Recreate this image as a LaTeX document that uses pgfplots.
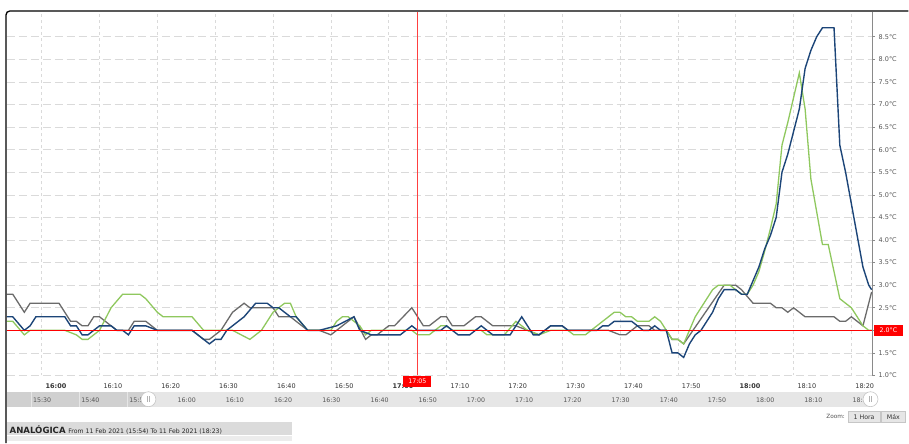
\documentclass[border=0pt]{standalone}
\usepackage{pgfplots}
\pgfplotsset{compat=1.18}
\usepackage{fontspec}
\setmainfont{DejaVu Sans}
\definecolor{cblue}{HTML}{1C4578}
\definecolor{cgreen}{HTML}{8FC85E}
\definecolor{cgray}{HTML}{6B6B6B}
\definecolor{gridc}{HTML}{DADADA}
\definecolor{axisgray}{HTML}{8A8A8A}
\definecolor{labelc}{HTML}{555555}
\definecolor{navlight}{HTML}{E6E6E6}
\definecolor{navdark}{HTML}{D0D0D0}
\definecolor{crossc}{HTML}{FF4040}
\begin{document}
\begin{tikzpicture}
\begin{scope}[x=1pt,y=1pt]
\path[use as bounding box] (0,0) rectangle (909,443);
\fill[white] (0,0) rectangle (909,443);
% navigator band
\fill[navlight] (7,34.7) rectangle (875.7,49.7);
\fill[navdark] (7,34.7) rectangle (149,49.7);
\foreach \t in {-30,-20,-10}{\draw[navlight,line width=0.8pt] ({176.7+4.84*\t},34.7) -- ({176.7+4.84*\t},49.7);}
\foreach \t/\lab in {-30/15:30,-20/15:40,-10/15:50,0/16:00,10/16:10,20/16:20,30/16:30,40/16:40,50/16:50,60/17:00,70/17:10,80/17:20,90/17:30,100/17:40,110/17:50,120/18:00,130/18:10,140/18:20}{
  \node[anchor=west,inner sep=0pt,font=\fontsize{6.3}{7}\selectfont,text=labelc] at ({176.7+4.84*\t+1.5},41.5) {\lab};
}
\foreach \hx in {149,874}{
  \filldraw[fill=white,draw=gray!45,line width=0.6pt] (\hx,42.2) circle (7.5);
  \draw[gray!60,line width=0.5pt] (\hx-1,39.5) -- (\hx-1,45) (\hx+1,39.5) -- (\hx+1,45);
}
\end{scope}
\begin{axis}[
  at={(7pt,66pt)}, anchor=south west,
  scale only axis, width=868.7pt, height=365pt,
  xmin=-6, xmax=143.6, ymin=1, ymax=9.05,
  axis y line*=right, axis x line*=bottom,
  separate axis lines,
  x axis line style={draw=none},
  y axis line style={draw=axisgray, line width=0.8pt},
  xtick={0,10,...,140},
  xticklabels={\textbf{16:00},16:10,16:20,16:30,16:40,16:50,\textbf{17:00},17:10,17:20,17:30,17:40,17:50,\textbf{18:00},18:10,18:20},
  ytick={1,1.5,2,2.5,3,3.5,4,4.5,5,5.5,6,6.5,7,7.5,8,8.5},
  yticklabel={\pgfmathprintnumber{\tick}°C},
  y tick label style={/pgf/number format/fixed, /pgf/number format/fixed zerofill, /pgf/number format/precision=1, /pgf/number format/assume math mode=true},
  tick align=outside, major tick length=3pt,
  xtick style={draw=none},
  ytick style={draw=axisgray, line width=0.6pt},
  xmajorgrids, ymajorgrids,
  x grid style={gridc, line width=0.6pt, dash pattern=on 3pt off 3pt},
  y grid style={gridc, line width=0.6pt, dash pattern=on 8pt off 4pt},
  tick label style={font=\fontsize{6.5}{7}\selectfont, text=labelc},
  xticklabel style={anchor=north west, xshift=0.5pt, yshift=-2pt, text=black!80},
  clip=true,
]
\addplot[cgray, line width=1.3pt] table {
-6 2.8
-5 2.8
-3 2.4
-2 2.6
3 2.6
5 2.2
6 2.2
7 2.1
8 2.1
9 2.3
10 2.3
13 2.0
15 2.0
16 2.2
18 2.2
20 2.0
26 2.0
28 1.8
29 1.8
31 2.0
33 2.4
35 2.6
36 2.5
40 2.5
41 2.3
43 2.3
46 2.0
48 2.0
50 1.9
54 2.3
56 1.8
57 1.9
58 1.9
59 2.0
60 2.1
61 2.1
64 2.5
66 2.1
67 2.1
69 2.3
70 2.3
71 2.1
73 2.1
75 2.3
76 2.3
78 2.1
82 2.1
84 2.0
86 1.9
88 2.1
90 2.1
91 2.0
98 2.0
100 1.9
101 1.9
102 2.0
103 2.1
105 2.1
106 2.0
108 2.0
109 1.8
110 1.8
111 1.7
118 3.0
120 3.0
121 2.9
123 2.6
126 2.6
127 2.5
128 2.5
129 2.4
130 2.5
132 2.3
137 2.3
138 2.2
139 2.2
140 2.3
142 2.1
143.5 2.85
};
\addplot[cgreen, line width=1.3pt] table {
-6 2.2
-5 2.2
-3 1.9
-2 2.0
4 2.0
6 1.9
7 1.8
8 1.8
10 2.0
12 2.5
14 2.8
17 2.8
18 2.7
20 2.4
21 2.3
26 2.3
28 2.0
33 2.0
36 1.8
38 2.0
40 2.4
42 2.6
43 2.6
44 2.3
46 2.0
50 2.0
51 2.2
52 2.3
53 2.3
55 2.1
56 1.9
57 2.0
64 2.0
65 1.9
67 1.9
68 2.0
69 2.1
70 2.1
71 2.0
76 2.0
77 1.9
80 1.9
82 2.2
84 2.0
86 1.9
88 2.0
91 2.0
92 1.9
94 1.9
95 2.0
97 2.2
99 2.4
100 2.4
101 2.3
102 2.3
103 2.2
105 2.2
106 2.3
107 2.2
108 2.0
109 1.8
110 1.8
111 1.7
112 2.0
113 2.3
114 2.5
115 2.7
116 2.9
117 3.0
119 3.0
120 2.9
121 2.8
122 2.8
123 3.0
124 3.3
125 3.75
126 4.25
127 4.8
128 6.1
129 6.6
131 7.7
132 6.9
133 5.35
135 3.9
136 3.9
138 2.7
140 2.5
142 2.1
143 2.0
143.6 2.0
};
\addplot[cblue, line width=1.4pt] table {
-6 2.3
-5 2.3
-3 2.0
-2 2.1
-1 2.3
4 2.3
5 2.1
6 2.1
7 1.9
8 1.9
9 2.0
10 2.1
12 2.1
13 2.0
14 2.0
15 1.9
16 2.1
18 2.1
20 2.0
26 2.0
28 1.8
29 1.7
30 1.8
31 1.8
32 2.0
34 2.2
35 2.3
37 2.6
39 2.6
40 2.5
41 2.5
43 2.3
44 2.3
46 2.0
48 2.0
51 2.1
54 2.3
55 2.0
57 1.9
62 1.9
64 2.1
65 2.0
69 2.0
70 2.1
72 1.9
74 1.9
76 2.1
78 1.9
81 1.9
83 2.3
85 1.9
86 1.9
88 2.1
90 2.1
91 2.0
96 2.0
97 2.1
98 2.1
99 2.2
102 2.2
104 2.0
105 2.0
106 2.1
107 2.0
108 2.0
109 1.5
110 1.5
111 1.4
112 1.7
113 1.9
114 2.0
115 2.2
116 2.4
117 2.7
118 2.9
120 2.9
121 2.8
122 2.8
123 3.1
124 3.4
125 3.8
126 4.1
127 4.5
128 5.5
129 5.9
131 6.9
132 7.8
133 8.2
134 8.5
135 8.7
137 8.7
138 6.1
139 5.5
140 4.8
141 4.1
142 3.4
143 3.0
143.5 2.9
};
\end{axis}
\begin{scope}[x=1pt,y=1pt]
% crosshair lines
\draw[crossc, line width=0.9pt] (419.1,66) -- (419.1,431);
\draw[red, line width=0.8pt] (7,111.3) -- (875.7,111.3);
% crosshair labels
\node[fill=red, text=white, inner sep=0pt, minimum width=28pt, minimum height=11pt, font=\fontsize{6.3}{7}\selectfont] at (419,60.2) {17:05};
\node[fill=red, text=white, inner sep=0pt, minimum width=29pt, minimum height=11pt, font=\fontsize{6.3}{7}\selectfont] at (892,111.6) {2.0°C};
% zoom buttons
\node[anchor=east, inner sep=0pt, font=\fontsize{5.8}{7}\selectfont, text=labelc] at (848.5,24.5) {Zoom:};
\filldraw[fill=navlight, draw=gray!45, line width=0.5pt] (851.7,19) rectangle (883.3,29.7);
\node[font=\fontsize{6.3}{7}\selectfont, text=black!80, inner sep=0pt] at (867.5,24.3) {1 Hora};
\filldraw[fill=navlight, draw=gray!45, line width=0.5pt] (885,19) rectangle (909,29.7);
\node[font=\fontsize{6.3}{7}\selectfont, text=black!80, inner sep=0pt] at (897,24.3) {Máx};
% bottom info bar
\fill[gray!28] (6.7,6) rectangle (293.3,19.7);
\fill[gray!15] (6.7,0) rectangle (293.3,5);
\node[anchor=west, inner sep=0pt, text=black!85] at (9.5,11.6) {\fontsize{8.6}{9}\selectfont\textbf{ANALÓGICA} \fontsize{6.2}{7}\selectfont From 11 Feb 2021 (15:54) To 11 Feb 2021 (18:23)};
% frame
\draw[black, line width=1.3pt, rounded corners=4pt] (6,-2) -- (6,432) -- (912,432);
\end{scope}
\end{tikzpicture}
\end{document}
